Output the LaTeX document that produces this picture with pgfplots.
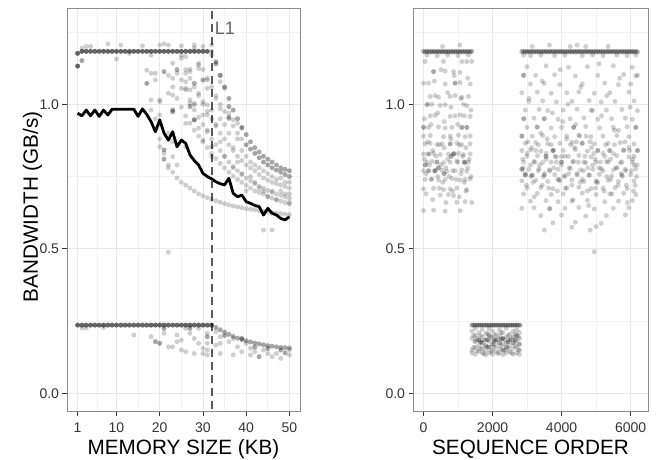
\documentclass[border=0pt]{standalone}
\usepackage{pgfplots}
\pgfplotsset{compat=1.18}
\usepackage{fontspec}
\setmainfont{Liberation Sans}

\pgfplotsset{
  panel/.style={
    scale only axis, height=403pt,
    ymin=-0.061, ymax=1.333,
    ytick={0,0.5,1}, yticklabels={0.0,0.5,1.0},
    minor ytick={0.25,0.75,1.25},
    grid=both,
    major grid style={line width=0.7pt, black!9},
    minor grid style={line width=0.7pt, black!5},
    axis line style={line width=0.8pt, black!45},
    tick align=outside, major tick length=4.5pt, minor tick length=0pt,
    xtick pos=left, ytick pos=left,
    tick style={line width=0.8pt, black!80},
    tick label style={font=\fontsize{14}{14}\selectfont, text=black!80},
    xticklabel style={yshift=-4pt},
    /pgf/number format/assume math mode=true,
    label style={font=\fontsize{20.7}{20.7}\selectfont},
    xlabel style={at={(axis description cs:0.5,-0.1067)}, anchor=base},
  },
  pts/.style={only marks, color=black, mark=*, mark size=2.5pt,
    mark options={line width=0pt, draw opacity=0, fill=black, fill opacity=#1}},
}

\begin{document}
\begin{tikzpicture}
\useasboundingbox (0pt,0pt) rectangle (657pt,459pt);

% ---- left: bandwidth vs memory size
\begin{axis}[panel, at={(67pt,48pt)}, anchor=south west, width=233pt,
  xmin=-1.45, xmax=52.45,
  xtick={1,10,20,30,40,50}, minor xtick={5.5,15,25,35,45},
  xlabel={MEMORY SIZE (KB)}, ylabel={BANDWIDTH (GB/s)},
  ylabel style={at={(axis description cs:-0.1245,0.507)}, anchor=base}]

% light single measurements
\addplot[pts=0.19] coordinates {
(2,1.194)(8,1.209)(10,1.156)(16,1.202)(17,1.118)(18,1.17)(19,1.107)(21,1.209)(18,1.015)(18,0.98)
(20,1.015)(23,1.142)(24,1.107)(25,1.17)(25,1.055)(20,1.205)(25,1.202)(28,1.205)(25,1.159)(29,1.136)
(18,1.107)(24,1.119)(27,1.121)(29,1.124)(19,1.084)(23,1.09)(26,1.078)(28,1.073)(31,1.084)(22,1.038)
(23,1.032)(27,1.05)(29,1.038)(31,1.055)(20,1.009)(27,1.003)(28,0.998)(31,0.998)(20,0.963)(26,0.934)
(28,0.946)(30,0.963)(22,0.9)(29,0.917)(31,0.911)(23,0.871)(30,0.876)(32,0.853)(26,0.853)(23,0.819)
(32,0.819)(26,1.165)(28,1.194)(29,1.142)(26,1.107)(27,1.113)(26,1.055)(28,1.072)(32,1.205)(34,1.1)
(34,1.078)(35,1.055)(28,1.003)(30,1.009)(32,0.98)(34,0.985)(36,0.969)(31,0.963)(34,0.95)(37,0.946)
(38,0.934)(39,0.917)(20,0.853)(22,0.78)(24,0.79)(32,1.183)(32,1.17)(3,1.2)(4,1.2)(11,1.205)
(13,1.176)(22,1.205)(30,1.2)
(33,1.02)(33,0.93)(34,0.87)(35,0.93)(35,0.82)(36,0.9)(37,0.85)(37,0.78)(38,0.88)(38,0.8)
(39,0.84)(39,0.76)(40,0.82)(40,0.7)(41,0.8)(41,0.75)(42,0.79)(42,0.73)(43,0.78)(43,0.71)
(44,0.77)(44,0.7)(45,0.76)(45,0.68)(46,0.75)(46,0.7)(47,0.74)(47,0.67)(48,0.745)(48,0.7)
(49,0.73)(49,0.69)(50,0.73)(50,0.69)(50,0.66)
(21,0.208)(22,0.161)(23,0.161)(24,0.179)(24,0.202)(25,0.184)(25,0.150)(26,0.144)(26,0.225)(27,0.208)
(28,0.190)(28,0.138)(29,0.225)(29,0.173)(30,0.156)(30,0.138)(31,0.208)(31,0.173)(31,0.150)(31,0.133)
(33,0.213)(33,0.167)(34,0.196)(34,0.173)(34,0.138)(36,0.179)(37,0.190)(37,0.133)(38,0.161)(39,0.144)
(40,0.173)(41,0.133)(41,0.156)(42,0.144)(44,0.150)(45,0.138)(46,0.127)(47,0.138)(48,0.121)(50,0.133)
(50,0.150)(14,0.202)(18,0.196)(2,0.226)(3,0.226)(7,0.228)(44,0.565)(46,0.565)(22,0.488)
};
% decaying runs beyond the cache size
\addplot[pts=0.19] coordinates {
(30,1.12)(31,1.09)(32,1.06)(33,1.03)(34,1.00)(35,0.975)(36,0.95)(37,0.925)(38,0.90)(39,0.88)
(26,1.12)(27,1.09)(28,1.06)(29,1.03)(30,1.00)(31,0.975)(32,0.95)(33,0.925)(34,0.90)(35,0.88)
(36,0.86)(37,0.84)(38,0.82)(39,0.805)(40,0.79)(41,0.78)(42,0.77)(43,0.757)(44,0.745)(45,0.737)
(46,0.73)(47,0.725)(48,0.72)(49,0.715)(50,0.71)
(24,1.12)(25,1.085)(26,1.05)(27,1.015)(28,0.98)(29,0.955)(30,0.93)(31,0.905)(32,0.88)(33,0.86)
(34,0.84)(35,0.82)(36,0.80)(37,0.785)(38,0.77)(39,0.757)(40,0.745)(41,0.735)(42,0.725)(43,0.717)
(44,0.71)(45,0.702)(46,0.695)(47,0.69)(48,0.685)(49,0.68)(50,0.675)
(22,1.10)(23,1.06)(24,1.02)(25,0.99)(26,0.96)(27,0.935)(28,0.91)(29,0.89)(30,0.87)(31,0.85)
(32,0.83)(33,0.812)(34,0.795)(35,0.78)(36,0.765)(37,0.752)(38,0.74)(39,0.73)(40,0.72)(41,0.71)
(42,0.70)(43,0.695)(44,0.69)(45,0.682)(46,0.675)(47,0.67)(48,0.665)(49,0.66)(50,0.655)
(19,0.95)(20,0.88)(21,0.83)(22,0.79)(23,0.765)(24,0.745)(25,0.73)(26,0.72)(27,0.71)(28,0.70)
(29,0.69)(30,0.683)(31,0.677)(32,0.671)(33,0.666)(34,0.661)(35,0.656)(36,0.652)(37,0.648)(38,0.645)
(39,0.642)(40,0.639)(41,0.637)(42,0.635)(43,0.632)(44,0.63)(45,0.628)(46,0.626)(47,0.624)(48,0.622)
(49,0.62)(50,0.618)
};
% overlapping (darker) measurements
\addplot[pts=0.35] coordinates {
(2,1.151)(17,1.072)(21,1.113)(23,0.98)(23,0.974)(21,0.842)(30,1.084)(27,0.992)(36,0.992)(28,0.946)
(36,0.955)(21,0.81)(33,1.147)
(19,0.179)(20,0.173)(21,0.225)(27,0.225)(31,0.196)(43,0.127)(35,0.2)(39,0.19)(42,0.16)(45,0.155)
(48,0.15)(49,0.14)
(40,0.86)(41,0.845)(42,0.83)(43,0.815)(44,0.80)(45,0.79)(46,0.78)(47,0.772)(48,0.765)(49,0.757)(50,0.75)
(33,1.14)(34,1.10)(35,1.06)(36,1.02)(37,0.98)(38,0.95)(39,0.92)(40,0.895)(41,0.87)(42,0.85)
(43,0.835)(44,0.82)(45,0.81)(46,0.80)(47,0.79)(48,0.78)(49,0.775)(50,0.77)
(33,0.228)(34,0.22)(35,0.212)(36,0.204)(37,0.197)(38,0.191)(39,0.186)(40,0.182)(41,0.178)(42,0.174)
(43,0.171)(44,0.168)(45,0.165)(46,0.163)(47,0.161)(48,0.159)(49,0.158)(50,0.157)
};
\addplot[pts=0.6] coordinates {
(1,1.132)
(1,1.176)(2,1.183)(3,1.183)(4,1.183)(5,1.183)(6,1.183)(7,1.183)(8,1.183)(9,1.183)(10,1.183)
(11,1.183)(12,1.183)(13,1.183)(14,1.183)(15,1.183)(16,1.183)(17,1.183)(18,1.183)(19,1.183)(20,1.183)
(21,1.183)(22,1.183)(23,1.183)(24,1.183)(25,1.183)(26,1.183)(27,1.183)(28,1.183)(29,1.183)(30,1.183)
(31,1.183)
(1,0.236)(2,0.236)(3,0.236)(4,0.236)(5,0.236)(6,0.236)(7,0.236)(8,0.236)(9,0.236)(10,0.236)
(11,0.236)(12,0.236)(13,0.236)(14,0.236)(15,0.236)(16,0.236)(17,0.236)(18,0.236)(19,0.236)(20,0.236)
(21,0.236)(22,0.236)(23,0.236)(24,0.236)(25,0.236)(26,0.236)(27,0.236)(28,0.236)(29,0.236)(30,0.236)
(31,0.236)(32,0.236)
};
% mean bandwidth
\addplot[black, line width=2.8pt, line join=round] coordinates {
(1,0.969)(2,0.960)(3,0.980)(4,0.960)(5,0.980)(6,0.958)(7,0.980)(8,0.963)(9,0.983)(10,0.983)
(11,0.983)(12,0.983)(13,0.983)(14,0.983)(15,0.958)(16,0.984)(17,0.965)(18,0.940)(19,0.905)(20,0.946)
(21,0.900)(22,0.876)(23,0.905)(24,0.853)(25,0.876)(26,0.865)(27,0.825)(28,0.805)(29,0.790)(30,0.761)
(31,0.750)(32,0.742)(33,0.732)(34,0.725)(35,0.721)(36,0.744)(37,0.692)(38,0.680)(39,0.686)(40,0.663)
(41,0.657)(42,0.650)(43,0.646)(44,0.617)(45,0.640)(46,0.623)(47,0.617)(48,0.605)(49,0.600)(50,0.611)
};
% L1 cache size
\addplot[black!65, line width=2pt, dash pattern=on 8pt off 5pt] coordinates {(32,-0.1) (32,1.4)};
\node[anchor=base west, inner sep=0pt, text=black!60, font=\fontsize{18}{18}\selectfont]
  at (axis cs:32,1.24) [xshift=3pt] {L1};
\end{axis}

% ---- right: bandwidth in sequence order
\begin{axis}[panel, at={(413pt,48pt)}, anchor=south west, width=235pt,
  xmin=-305, xmax=6505,
  xtick={0,2000,4000,6000}, minor xtick={1000,3000,5000},
  scaled x ticks=false,
  xticklabels={0,2000,4000,6000},
  xlabel={SEQUENCE ORDER}]

\addplot[pts=0.19] coordinates {
(49,1.148)(579,1.148)(1110,1.148)(1254,1.148)(1399,1.148)
(869,1.113)(1062,1.11)(628,1.115)
(146,1.073)(628,1.07)(1062,1.075)(0,1.073)(1351,1.07)
(194,1.027)(338,1.03)(435,1.025)(772,1.027)(917,1.03)(1110,1.024)(1303,1.027)
(97,0.998)(242,1.0)(483,0.996)(628,0.998)(1158,1.0)(1254,0.995)
(194,0.96)(338,0.962)(772,0.958)(917,0.96)(1062,0.963)(1351,0.958)
(146,0.92)(435,0.922)(628,0.918)(820,0.92)
(0,0.89)(194,0.892)(579,0.888)(772,0.89)(1013,0.893)(1206,0.888)(1351,0.89)
(49,0.863)(194,0.865)(387,0.861)(531,0.863)(965,0.866)(1110,0.86)(1351,0.863)
(0,0.828)(290,0.83)(483,0.826)(724,0.828)(1013,0.83)(1158,0.826)(1351,0.828)
(97,0.8)(242,0.802)(579,0.798)(772,0.8)(965,0.803)(1206,0.798)(1303,0.8)
(0,0.77)(531,0.772)(676,0.768)(917,0.77)(1110,0.773)(1254,0.768)
(49,0.74)(242,0.742)(435,0.738)(628,0.74)(820,0.743)(1062,0.738)(1206,0.74)(1351,0.742)
(0,0.707)(290,0.709)(579,0.705)(772,0.707)(965,0.71)(1254,0.705)
(483,0.686)(724,0.688)(869,0.684)
(965,0.661)(1206,0.663)(1399,0.66)
(0,0.632)(290,0.634)(628,0.63)(1062,0.632)
(100,1.17)(400,1.168)(700,1.17)(1000,1.168)(1300,1.17)(550,1.2)(1050,1.205)
(25,0.81)(75,0.76)(120,0.87)(170,0.79)(220,0.74)(265,0.84)(315,0.77)(360,0.82)(410,0.75)(460,0.86)
(505,0.79)(555,0.73)(600,0.85)(650,0.78)(700,0.81)(745,0.75)(795,0.88)(845,0.77)(890,0.83)(940,0.74)
(990,0.8)(1035,0.86)(1085,0.76)(1135,0.82)(1180,0.73)(1230,0.85)(1280,0.78)(1325,0.81)(1375,0.75)
(25,0.95)(120,1.0)(220,0.93)(315,1.08)(410,0.97)(505,1.12)(600,0.94)(700,1.04)(795,0.99)(890,1.1)
(990,0.93)(1085,1.02)(1180,0.96)(1280,1.09)(1375,0.98)
(75,0.69)(265,0.67)(460,0.71)(650,0.66)(845,0.7)(1035,0.68)(1230,0.7)
(3150,1.2)(3650,1.205)(4250,1.2)(4450,1.205)(4700,1.2)(5350,1.2)
(2900,1.17)(3100,1.168)(3400,1.17)(3800,1.168)(4100,1.17)(4600,1.168)(4900,1.17)(5200,1.168)(5600,1.17)(5900,1.168)(6150,1.17)
(3000,1.13)(3550,1.133)(4200,1.128)(4750,1.13)(5500,1.133)(6050,1.128)
(3250,1.1)(3800,1.102)(4400,1.098)(5050,1.1)(5800,1.103)(6150,1.098)
(3100,1.07)(3500,1.072)(3950,1.068)(4600,1.07)(5250,1.073)(5650,1.068)(6000,1.07)
(2850,1.04)(3300,1.042)(3700,1.038)(4150,1.04)(4500,1.043)(4950,1.038)(5400,1.04)(5950,1.042)
(3050,1.01)(3450,1.012)(3850,1.008)(4300,1.01)(4800,1.013)(5150,1.008)(5550,1.01)(6100,1.012)
(2950,0.98)(3350,0.982)(3600,0.978)(4050,0.98)(4450,0.983)(4900,0.978)(5300,0.98)(5750,0.982)(6200,0.978)
(2900,0.95)(3200,0.952)(3900,0.948)(4250,0.95)(4650,0.953)(5050,0.948)(5450,0.95)(5850,0.952)(6050,0.948)
(3000,0.92)(3300,0.922)(3700,0.918)(4000,0.92)(4700,0.923)(5100,0.918)(5500,0.92)(5900,0.922)
(3150,0.89)(3450,0.892)(3800,0.888)(4150,0.89)(4500,0.893)(4850,0.888)(5200,0.89)(5600,0.892)(5950,0.888)
(2950,0.865)(3250,0.867)(3600,0.863)(3950,0.865)(4300,0.868)(4950,0.863)(5350,0.865)(5700,0.867)(6100,0.863)
(2850,0.84)(3100,0.842)(3400,0.838)(4050,0.84)(4400,0.843)(4750,0.838)(5400,0.84)(5800,0.842)
(3000,0.82)(3300,0.822)(3850,0.818)(4200,0.82)(4500,0.823)(4850,0.818)(5250,0.82)(5600,0.822)(5950,0.818)(6100,0.82)
(2900,0.8)(3200,0.802)(3450,0.798)(3700,0.8)(4350,0.803)(4700,0.798)(5000,0.8)(5300,0.802)(5700,0.798)(6050,0.8)
(3050,0.775)(3350,0.777)(3650,0.773)(3900,0.775)(4250,0.778)(4550,0.773)(4900,0.775)(5150,0.777)(5500,0.773)(5850,0.775)(6150,0.777)
(3500,0.755)(3800,0.757)(4100,0.753)(4450,0.755)(5100,0.758)(5450,0.753)(5750,0.755)(6000,0.757)
(2850,0.735)(3250,0.737)(3600,0.733)(3950,0.735)(4300,0.738)(4650,0.733)(5000,0.735)(5350,0.737)(5650,0.733)(6100,0.735)
(3000,0.71)(3400,0.712)(3750,0.708)(4150,0.71)(4500,0.713)(4850,0.708)(5200,0.71)(5550,0.712)(5900,0.708)
(2900,0.69)(3300,0.692)(3700,0.688)(4050,0.69)(4600,0.693)(5000,0.688)(5400,0.69)(5800,0.692)(6150,0.688)
(3100,0.665)(3550,0.667)(3900,0.663)(4300,0.665)(4750,0.668)(5250,0.663)(5650,0.665)(6050,0.667)
(2850,0.64)(3200,0.642)(3650,0.638)(4100,0.64)(4500,0.643)(4950,0.638)(5500,0.64)(5950,0.642)
(3400,0.615)(4000,0.617)(4700,0.613)(5300,0.615)(5850,0.617)
(3750,0.59)(4400,0.592)(5150,0.588)(4300,0.575)(5000,0.577)
(3500,0.565)(4830,0.565)(4950,0.49)
(2875,0.81)(2950,0.76)(3025,0.87)(3100,0.79)(3175,0.73)(3250,0.84)(3325,0.77)(3400,0.9)(3475,0.75)(3550,0.83)
(3625,0.71)(3700,0.86)(3775,0.78)(3850,0.8)(3925,0.74)(4000,0.82)(4075,0.75)(4150,0.88)(4225,0.78)(4300,0.72)
(4375,0.85)(4450,0.76)(4525,0.89)(4600,0.74)(4675,0.82)(4750,0.7)(4825,0.87)(4900,0.79)(4975,0.81)(5050,0.73)
(5125,0.8)(5200,0.77)(5275,0.86)(5350,0.8)(5425,0.74)(5500,0.83)(5575,0.78)(5650,0.91)(5725,0.76)(5800,0.84)
(5875,0.72)(5950,0.85)(6025,0.77)(6100,0.79)(6175,0.75)
(2910,0.95)(2985,0.72)(3060,1.02)(3135,0.85)(3210,0.68)(3285,0.92)(3360,0.79)(3435,1.08)(3510,0.76)(3585,0.88)
(3660,0.64)(3735,0.97)(3810,0.82)(3885,0.74)(3960,1.12)(4035,0.94)(4110,0.71)(4185,1.0)(4260,0.86)(4335,0.67)
(4410,0.93)(4485,0.8)(4560,1.06)(4635,0.77)(4710,0.89)(4785,0.65)(4860,0.98)(4935,0.83)(5010,0.73)(5085,1.14)
(5160,0.96)(5235,0.7)(5310,1.03)(5385,0.84)(5460,0.69)(5535,0.91)(5610,0.78)(5685,1.09)(5760,0.75)(5835,0.87)
(5910,0.66)(5985,0.99)(6060,0.81)(6135,0.72)(6200,1.1)
(2890,0.78)(3000,0.83)(3110,0.75)(3220,0.8)(3330,0.86)(3440,0.72)(3550,0.81)(3660,0.77)(3770,0.84)(3880,0.7)
(3990,0.79)(4100,0.82)(4210,0.76)(4320,0.8)(4430,0.87)(4540,0.73)(4650,0.8)(4760,0.78)(4870,0.85)(4980,0.71)
(5090,0.78)(5200,0.83)(5310,0.75)(5420,0.81)(5530,0.86)(5640,0.72)(5750,0.8)(5860,0.77)(5970,0.84)(6080,0.7)(6190,0.79)
(1400,0.215)(1400,0.19)(1400,0.15)(1400,0.14)(1500,0.225)(1500,0.2)(1500,0.16)(1500,0.135)
(1600,0.21)(1600,0.165)(1600,0.145)(1700,0.22)(1700,0.195)(1700,0.155)(1700,0.14)
(1800,0.205)(1800,0.185)(1800,0.15)(1800,0.133)(1900,0.225)(1900,0.18)(1900,0.14)
(2000,0.215)(2000,0.19)(2000,0.15)(2000,0.135)(2100,0.205)(2100,0.165)(2100,0.145)
(2200,0.22)(2200,0.2)(2200,0.155)(2200,0.14)(2300,0.21)(2300,0.17)(2300,0.133)
(2400,0.225)(2400,0.195)(2400,0.175)(2400,0.14)(2500,0.205)(2500,0.165)(2500,0.145)
(2600,0.215)(2600,0.195)(2600,0.155)(2600,0.135)(2700,0.22)(2700,0.18)(2700,0.16)(2700,0.14)
(2780,0.21)(2780,0.19)(2780,0.15)(2780,0.135)
(1450,0.2)(1450,0.158)(1550,0.19)(1550,0.148)(1650,0.2)(1650,0.155)(1750,0.185)(1750,0.138)
(1850,0.21)(1850,0.16)(1950,0.195)(1950,0.145)(2050,0.2)(2050,0.16)(2150,0.19)(2150,0.138)
(2250,0.21)(2250,0.165)(2350,0.185)(2350,0.148)(2450,0.2)(2450,0.155)(2550,0.19)(2550,0.14)
(2650,0.205)(2650,0.165)(2750,0.195)(2750,0.15)
};
\addplot[pts=0.35] coordinates {
(290,1.113)(917,1.073)(0,0.92)(1110,0.92)(1254,0.92)(772,0.863)(146,0.828)(869,0.828)(387,0.8)
(146,0.77)(338,0.77)(50,0.79)(430,0.78)(800,0.82)(1180,0.8)(600,0.76)
(2900,1.1)(3500,0.95)(4350,0.92)(6150,0.92)(2850,0.89)(4600,0.865)(3750,0.84)(5050,0.84)(6200,0.84)
(3550,0.82)(4000,0.8)(2850,0.775)(2950,0.755)(3150,0.755)(4800,0.755)
(1500,0.18)(1600,0.185)(1700,0.175)(1800,0.165)(1900,0.2)(1900,0.16)(2000,0.17)(2100,0.185)
(2200,0.175)(2300,0.19)(2300,0.15)(2400,0.16)(2500,0.185)(2600,0.175)(2700,0.2)(2780,0.17)
(1650,0.178)(1850,0.185)(2050,0.18)(2250,0.188)(2450,0.178)(2650,0.185)
};
\addplot[pts=0.3] coordinates {
(0,1.183)(50,1.181)(100,1.183)(150,1.181)(200,1.183)(250,1.181)(300,1.183)(350,1.181)(400,1.183)(450,1.181)
(500,1.183)(550,1.181)(600,1.183)(650,1.181)(700,1.183)(750,1.181)(800,1.183)(850,1.181)(900,1.183)(950,1.181)
(1000,1.183)(1050,1.181)(1100,1.183)(1150,1.181)(1200,1.183)(1250,1.181)(1300,1.183)(1350,1.181)(1400,1.183)
(2850,1.183)(2900,1.181)(2950,1.183)(3000,1.181)(3050,1.183)(3100,1.181)(3150,1.183)(3200,1.181)(3250,1.183)(3300,1.181)
(3350,1.183)(3400,1.181)(3450,1.183)(3500,1.181)(3550,1.183)(3600,1.181)(3650,1.183)(3700,1.181)(3750,1.183)(3800,1.181)
(3850,1.183)(3900,1.181)(3950,1.183)(4000,1.181)(4050,1.183)(4100,1.181)(4150,1.183)(4200,1.181)(4250,1.183)(4300,1.181)
(4350,1.183)(4400,1.181)(4450,1.183)(4500,1.181)(4550,1.183)(4600,1.181)(4650,1.183)(4700,1.181)(4750,1.183)(4800,1.181)
(4850,1.183)(4900,1.181)(4950,1.183)(5000,1.181)(5050,1.183)(5100,1.181)(5150,1.183)(5200,1.181)(5250,1.183)(5300,1.181)
(5350,1.183)(5400,1.181)(5450,1.183)(5500,1.181)(5550,1.183)(5600,1.181)(5650,1.183)(5700,1.181)(5750,1.183)(5800,1.181)
(5850,1.183)(5900,1.181)(5950,1.183)(6000,1.181)(6050,1.183)(6100,1.181)(6150,1.183)(6200,1.181)
(1400,0.236)(1450,0.236)(1500,0.236)(1550,0.236)(1600,0.236)(1650,0.236)(1700,0.236)(1750,0.236)(1800,0.236)(1850,0.236)
(1900,0.236)(1950,0.236)(2000,0.236)(2050,0.236)(2100,0.236)(2150,0.236)(2200,0.236)(2250,0.236)(2300,0.236)(2350,0.236)
(2400,0.236)(2450,0.236)(2500,0.236)(2550,0.236)(2600,0.236)(2650,0.236)(2700,0.236)(2750,0.236)(2800,0.236)
};
\end{axis}
\end{tikzpicture}
\end{document}
